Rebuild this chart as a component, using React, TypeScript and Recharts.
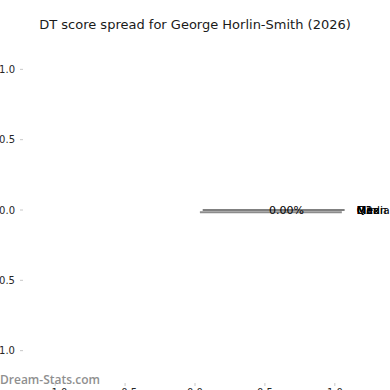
import { ComposedChart, XAxis, YAxis, Line, Scatter } from 'recharts';

const chartTitle = 'DT score spread for George Horlin-Smith (2026)';
const watermark = 'Dream-Stats.com';

// axis ticks (same on both axes)
const axisTicks = [-1, -0.5, 0, 0.5, 1];
const axisDomain = [-1.23, 1.23];

// the spread line and its drop shadow
const spreadX = [0.055, 1.07];
const spreadY = [0, 0];
const shadowX = [0.035, 1.05];
const shadowY = [-0.016, -0.016];

// percentage label on the line
const spreadLabels = ['0.00%'];
const spreadLabelX = [0.655];

// stat names stacked at the right end (all at 0)
const statNames = ['Min', 'Q1', 'Median', 'Mean', 'Q3', 'Max'];
const statValues = [0, 0, 0, 0, 0, 0];
const statLabelX = 1.157;

const spreadData = spreadX.map((x, i) => ({ x, y: spreadY[i] }));
const shadowData = shadowX.map((x, i) => ({ x, y: shadowY[i] }));
const labelData = spreadLabels.map((name, i) => ({ x: spreadLabelX[i], y: 0, name }));
const statData = statNames.map((name, i) => ({ x: statLabelX, y: statValues[i], name }));

const fmt = (v: number) => (v < 0 ? '\u2212' : '') + Math.abs(v).toFixed(1);
const tickFont = { fontSize: 10, fill: '#262626', fontFamily: 'DejaVu Sans' };
const tickLine = { stroke: '#c8c8c8' };
const noLabel = () => <g />;

const textShape = (anchor: 'start' | 'middle') => (p: any) => (
  <text
    x={p.cx}
    y={p.cy}
    dy="0.35em"
    textAnchor={anchor}
    fontSize={11}
    fontFamily="DejaVu Sans"
    fill="#000"
    stroke="none"
    opacity={0.99}
  >
    {p.payload.name}
  </text>
);

export default function App() {
  return (
    <div style={{ position: 'absolute', left: 0, top: 0, width: 390, height: 390, background: '#fff' }}>
      <ComposedChart width={390} height={390} margin={{ top: 0, right: 0, bottom: 0, left: 0 }}>
        <XAxis
          xAxisId="top"
          orientation="top"
          type="number"
          dataKey="x"
          domain={axisDomain}
          ticks={axisTicks}
          height={37}
          axisLine={false}
          tickLine={tickLine}
          tickSize={3}
          tick={noLabel}
        />
        <XAxis
          type="number"
          dataKey="x"
          domain={axisDomain}
          ticks={axisTicks}
          height={7}
          axisLine={false}
          tickLine={tickLine}
          tickSize={3}
          tickMargin={3}
          tick={tickFont}
          tickFormatter={fmt}
        />
        <YAxis
          type="number"
          domain={axisDomain}
          ticks={axisTicks}
          width={23}
          axisLine={false}
          tickLine={tickLine}
          tickSize={3}
          tickMargin={5}
          tick={tickFont}
          tickFormatter={fmt}
        />
        <YAxis
          yAxisId="right"
          orientation="right"
          type="number"
          domain={axisDomain}
          ticks={axisTicks}
          width={23}
          axisLine={false}
          tickLine={tickLine}
          tickSize={3}
          tick={noLabel}
        />
        <Line
          data={shadowData}
          dataKey="y"
          stroke="#8c8c8c"
          strokeWidth={2}
          dot={false}
          isAnimationActive={false}
        />
        <Line
          data={spreadData}
          dataKey="y"
          stroke="#000"
          strokeWidth={1}
          dot={false}
          isAnimationActive={false}
        />
        <Scatter
          data={labelData}
          dataKey="y"
          fill="#000"
          isAnimationActive={false}
          shape={textShape('middle')}
        />
        <Scatter
          data={statData}
          dataKey="y"
          fill="#000"
          isAnimationActive={false}
          shape={textShape('start')}
        />
      </ComposedChart>
      <div
        style={{
          position: 'absolute',
          top: 17,
          left: 0,
          width: 390,
          textAlign: 'center',
          fontFamily: 'DejaVu Sans',
          fontSize: 13,
          lineHeight: '16px',
          color: '#1a1a1a',
        }}
      >
        {chartTitle}
      </div>
      <div
        style={{
          position: 'absolute',
          top: 372,
          left: 0,
          fontFamily: 'Open Sans',
          fontWeight: 600,
          fontSize: 12,
          lineHeight: '16px',
          color: '#8f8f8f',
        }}
      >
        {watermark}
      </div>
    </div>
  );
}
